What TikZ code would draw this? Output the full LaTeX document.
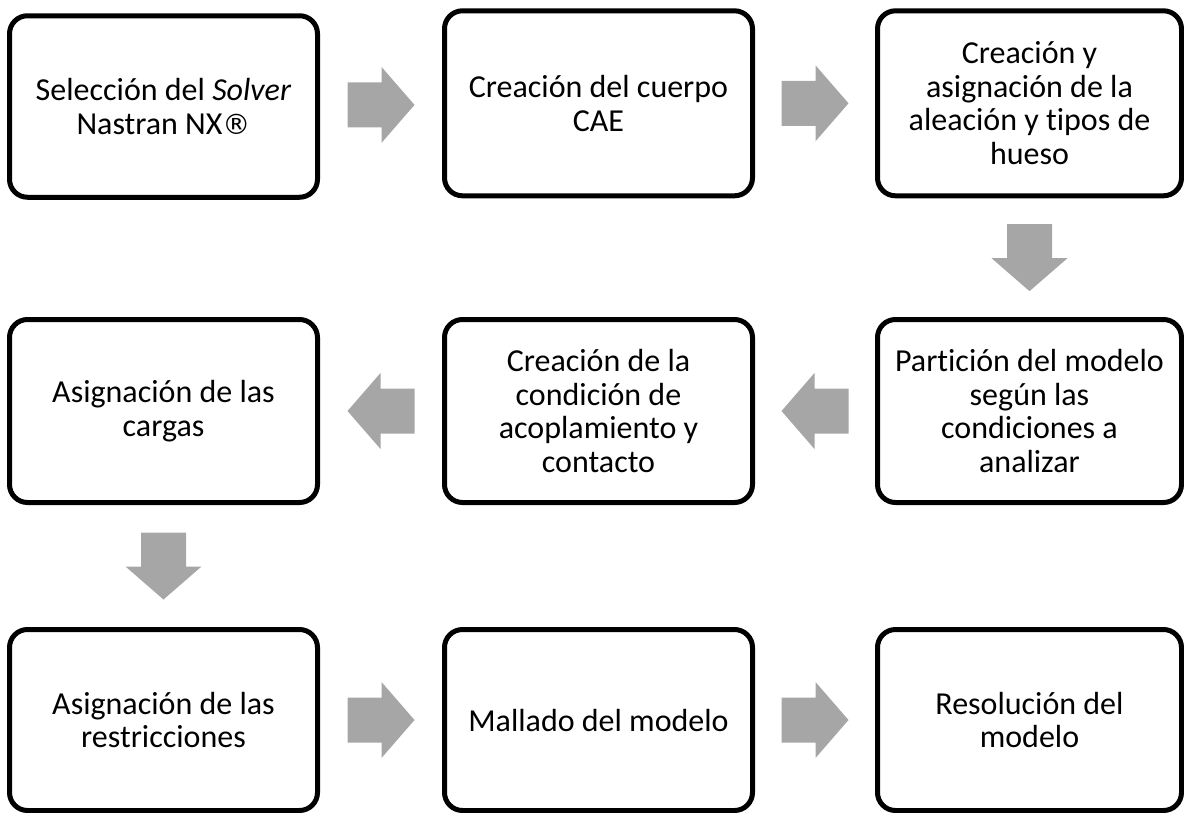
\documentclass[tikz,border=0pt]{standalone}
\usepackage{fontspec}
\setmainfont{Carlito}[Ligatures=NoCommon]
\newfontfamily\regfont{DejaVu Sans}
\usepackage{xcolor}
\usetikzlibrary{calc}
\definecolor{arrowgray}{HTML}{A6A6A6}

\tikzset{
  stepbox/.style={draw,line width=5pt,rounded corners=18pt,inner sep=0pt,
    minimum width=308pt,align=center,font=\fontsize{32}{33.5}\selectfont},
  blockarrow/.pic={\fill[arrowgray] (-33.5,-22.5)--(0.5,-22.5)--(0.5,-38)--(33.5,0)--(0.5,38)--(0.5,22.5)--(-33.5,22.5)--cycle;}
}

\begin{document}
\begin{tikzpicture}[x=1pt,y=-1pt]
\useasboundingbox (0,0) rectangle (1184,812);
% first row
\node[stepbox,minimum height=181.5pt] (sel) at (163.5,106.5) {Selección del \textit{Solver}\\Nastran NX{\regfont\fontsize{28}{33.5}\selectfont ®}};
\node[stepbox,minimum height=185pt] (cae) at (598.5,103.3) {Creación del cuerpo\\CAE};
\node[stepbox,minimum height=185pt,minimum width=304pt] (alea) at (1029.5,103.3) {Creación y\\asignación de la\\aleación y tipos de\\hueso};
% second row
\node[stepbox,minimum height=183pt] (carg) at (163.5,411) {Asignación de las\\cargas};
\node[stepbox,minimum height=183pt] (acop) at (598.5,411) {Creación de la\\condición de\\acoplamiento y\\contacto};
\node[stepbox,minimum height=183pt,minimum width=304pt] (part) at (1029.5,411) {Partición del modelo\\según las\\condiciones a\\analizar};
% third row
\node[stepbox,minimum height=181pt] (restr) at (163.5,720) {Asignación de las\\restricciones};
\node[stepbox,minimum height=181pt] (malla) at (598.5,720) {Mallado del modelo};
\node[stepbox,minimum height=181pt,minimum width=304pt] (resol) at (1029.5,720) {Resolución del\\modelo};
% block arrows
\pic at ($(sel.east)!0.5!(cae.west)$) {blockarrow};
\pic at ($(cae.east)!0.5!(alea.west)$) {blockarrow};
\pic[rotate=-90] at ($(alea.south)!0.5!(part.north)$) {blockarrow};
\pic[rotate=180] at ($(part.west)!0.5!(acop.east)$) {blockarrow};
\pic[rotate=180] at ($(acop.west)!0.5!(carg.east)$) {blockarrow};
\pic[rotate=-90] at ($(carg.south)!0.5!(restr.north)$) {blockarrow};
\pic at ($(restr.east)!0.5!(malla.west)$) {blockarrow};
\pic at ($(malla.east)!0.5!(resol.west)$) {blockarrow};
\end{tikzpicture}
\end{document}
